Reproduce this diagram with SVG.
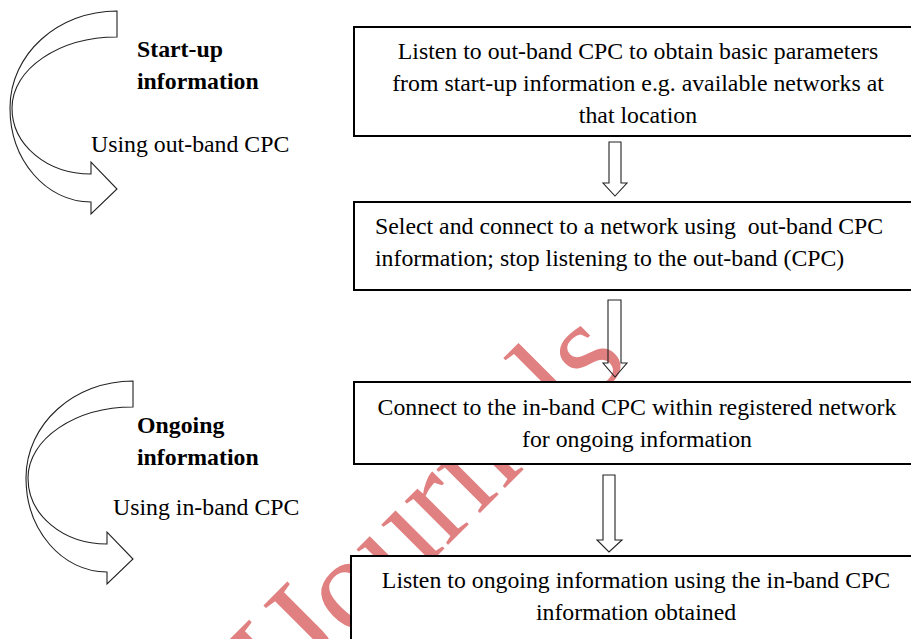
<svg xmlns="http://www.w3.org/2000/svg" width="911" height="639" viewBox="0 0 911 639">
  <style>
    .box { fill: #ffffff; stroke: #000000; stroke-width: 2; }
    .txt { font-family: "Liberation Serif", "Times New Roman", serif; font-size: 23.8px; fill: #000000; }
    .mid { text-anchor: middle; }
    .bold { font-weight: bold; }
    .flow { fill: none; stroke: #222222; stroke-width: 1.1; stroke-linejoin: miter; }
    .bend { fill: #ffffff; stroke: #222222; stroke-width: 1.1; stroke-linejoin: miter; }
    .mark { font-family: "Liberation Serif", "Times New Roman", serif; font-size: 134px; fill: #E08080; }
  </style>
  <defs>
    <!-- curved right arrow used beside each phase -->
    <path id="bend-arrow" class="bend" d="M117,11 C58,11 10,54 10,108 C10,160 46,202 91,202 L91,214 L117,189 L91,162 L91,174 C47,174 12,145 12,108 C12,69 59,37 117,37 Z"/>
  </defs>

  <rect width="911" height="639" fill="#ffffff"/>

  <!-- background watermark -->
  <text class="mark" transform="translate(283,710) rotate(-45)">IJournals</text>

  <!-- phase markers -->
  <g id="phase-startup">
    <use href="#bend-arrow"/>
    <text class="txt bold" x="137" y="57">Start-up</text>
    <text class="txt bold" x="137" y="89">information</text>
    <text class="txt" x="91" y="152">Using out-band CPC</text>
  </g>
  <g id="phase-ongoing">
    <use href="#bend-arrow" transform="translate(16,370)"/>
    <text class="txt bold" x="137" y="433">Ongoing</text>
    <text class="txt bold" x="137" y="465">information</text>
    <text class="txt" x="113" y="515">Using in-band CPC</text>
  </g>

  <!-- step-to-step block arrows -->
  <g id="connectors">
    <path class="flow" d="M609,142 L621,142 L621,183 L627,183 L615,196 L603,183 L609,183 Z"/>
    <path class="flow" d="M608,300 L621,300 L621,363 L627,363 L615,377 L603,363 L608,363 Z"/>
    <path class="flow" d="M603,475 L615,475 L615,540 L622,540 L609,552 L597,540 L603,540 Z"/>
  </g>

  <g id="step-listen-outband">
    <rect class="box" x="354" y="27" width="600" height="109"/>
    <text class="txt mid" x="638" y="59">Listen to out-band CPC to obtain basic parameters</text>
    <text class="txt mid" x="638" y="91">from start-up information e.g. available networks at</text>
    <text class="txt mid" x="638" y="123">that location</text>
  </g>

  <g id="step-select-network">
    <rect class="box" x="354" y="202" width="600" height="88"/>
    <text class="txt" x="375" y="234" xml:space="preserve">Select and connect to a network using  out-band CPC</text>
    <text class="txt" x="375" y="266">information; stop listening to the out-band (CPC)</text>
  </g>

  <g id="step-connect-inband">
    <rect class="box" x="354" y="382" width="600" height="82"/>
    <text class="txt mid" x="637" y="415">Connect to the in-band CPC within registered network</text>
    <text class="txt mid" x="637" y="447">for ongoing information</text>
  </g>

  <g id="step-listen-ongoing">
    <rect class="box" x="351" y="556" width="600" height="120"/>
    <text class="txt mid" x="636" y="588">Listen to ongoing information using the in-band CPC</text>
    <text class="txt mid" x="636" y="620">information obtained</text>
  </g>
</svg>
